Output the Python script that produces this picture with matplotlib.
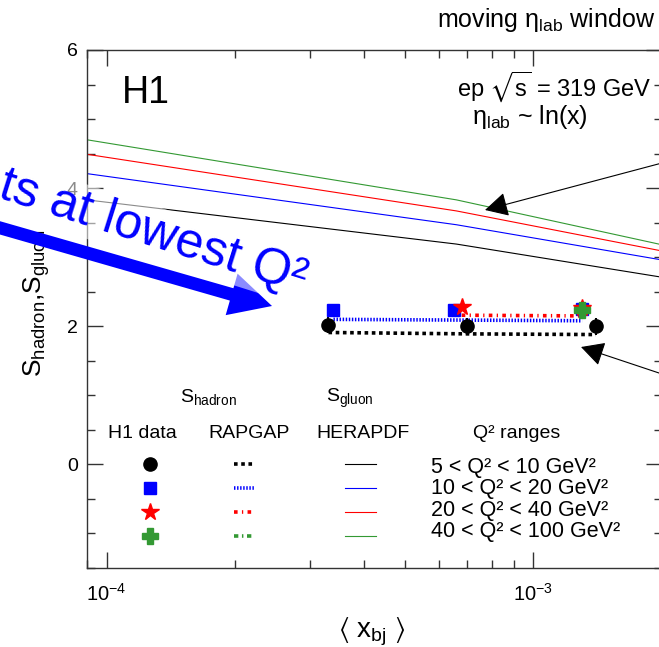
import matplotlib.pyplot as plt
from matplotlib.ticker import LogLocator, MultipleLocator, NullFormatter

plt.rcParams['font.family'] = ['Liberation Sans', 'DejaVu Sans']
plt.rcParams['mathtext.fontset'] = 'custom'
plt.rcParams['mathtext.rm'] = 'Liberation Sans'
plt.rcParams['mathtext.it'] = 'Liberation Sans:italic'
plt.rcParams['mathtext.bf'] = 'Liberation Sans:bold'
plt.rcParams['mathtext.fallback'] = 'stixsans'

# H1 data (S_hadron) per Q2 bin
x_q1 = [3.31e-4, 6.98e-4, 1.40e-3]
s_q1 = [2.02, 2.00, 2.00]
err_q1 = [0.12, 0.12, 0.12]
x_q2 = [3.40e-4, 6.52e-4, 1.30e-3]
s_q2 = [2.23, 2.23, 2.25]
x_q3 = [6.79e-4, 1.30e-3]
s_q3 = [2.28, 2.27]
x_q4 = [1.30e-3]
s_q4 = [2.23]

# RAPGAP predictions
rap_q1 = [1.91, 1.89, 1.88]
rap_q2 = [2.10, 2.09, 2.08]
rap_q3 = [2.16, 2.15]
rap_q4 = [2.20]

# HERAPDF S_gluon
x_pdf = [9e-5, 6.6e-4, 2e-3]
pdf_q1 = [3.83, 3.19, 2.71]
pdf_q2 = [4.21, 3.47, 2.96]
pdf_q3 = [4.49, 3.67, 3.09]
pdf_q4 = [4.70, 3.83, 3.18]

q2_labels = ['5 < Q² < 10 GeV²',
             '10 < Q² < 20 GeV²',
             '20 < Q² < 40 GeV²',
             '40 < Q² < 100 GeV²']
colors = ['black', '#0000ff', '#ff0000', '#339933']
green = colors[3]

W, H = 659, 647
fig = plt.figure(figsize=(W / 100, H / 100), dpi=100)
ax = fig.add_axes([87 / W, 1 - 568 / H, (662 - 87) / W, (568 - 50) / H])
ax.set_xscale('log')

# HERAPDF lines
pdf_lines = []
for vals, c in zip([pdf_q1, pdf_q2, pdf_q3, pdf_q4], colors):
    ln, = ax.plot(x_pdf, vals, color=c, lw=0.8)
    pdf_lines.append(ln)

# RAPGAP lines
r1, = ax.plot(x_q1, rap_q1, color='black', lw=2.6, ls=(0, (1, 1)))
r2, = ax.plot(x_q2, rap_q2, color=colors[1], lw=2.6, ls=(0, (0.4, 0.45)))
r3, = ax.plot(x_q3, rap_q3, color=colors[2], lw=2.6, ls=(0, (1, 1.2, 0.35, 1.2)))
r4, = ax.plot(x_q4, rap_q4, color=green, lw=2.6, ls=(0, (1.2, 1, 0.4, 1)))
rap_lines = [r1, r2, r3, r4]

# data points
ax.errorbar(x_q1, s_q1, yerr=err_q1, fmt='none', ecolor='black', elinewidth=1.5)
m1, = ax.plot(x_q1, s_q1, 'o', color='black', ms=9.5, ls='none')
m2, = ax.plot(x_q2, s_q2, 's', color=colors[1], ms=9, ls='none')
m3, = ax.plot(x_q3, s_q3, '*', color=colors[2], ms=13, ls='none')
m4, = ax.plot(x_q4, s_q4, 'P', color=green, ms=11, ls='none')
markers = [m1, m2, m3, m4]

ax.set_xlim(9e-5, 2e-3)
ax.set_ylim(-1.5, 6)
ax.xaxis.set_major_locator(LogLocator(base=10, numticks=10))
ax.xaxis.set_minor_locator(LogLocator(base=10, subs=range(2, 10), numticks=10))
ax.xaxis.set_minor_formatter(NullFormatter())
ax.yaxis.set_major_locator(MultipleLocator(2))
ax.yaxis.set_minor_locator(MultipleLocator(0.5))
ax.tick_params(which='both', direction='in', top=True, right=True,
               width=1, color='#333333')
ax.tick_params(which='major', length=11.5)
ax.tick_params(which='minor', length=6)
ax.tick_params(axis='x', labelsize=14.5, pad=11)
ax.tick_params(axis='y', labelsize=14, pad=6.5)
for sp in ax.spines.values():
    sp.set_color('#333333')
    sp.set_linewidth(1)

ax.set_ylabel(r'$\mathrm{S_{hadron}}$,$\mathrm{S_{gluon}}$', fontsize=19)
ax.yaxis.set_label_coords(-0.06, 0.51)
ax.set_xlabel(r'$\langle\ \mathrm{x_{bj}}\ \rangle$', fontsize=20)
ax.xaxis.set_label_coords(0.496, -0.092)

ax.text(0.061, 0.898, 'H1', fontsize=27, transform=ax.transAxes)

# legend block: handle columns + label column, same row pitch
fs = 14
lab_fs = 15.5
pitch = 24.1  # px between rows
hh = 2.4
hbox_pt = lab_fs * hh - 0.35 * lab_fs * (hh - 0.7)
hbox_px = hbox_pt * 100 / 72
lab_px = lab_fs * 100 / 72
hcommon = dict(frameon=False, fontsize=lab_fs, borderpad=0, borderaxespad=0,
               handleheight=hh, labelspacing=(pitch - hbox_px) / lab_px,
               numpoints=1, loc='center', handletextpad=0)
leg1 = ax.legend(markers, [''] * 4, bbox_to_anchor=(0.1096, 0.1195),
                 handlelength=0.98, **hcommon)
ax.add_artist(leg1)
leg2 = ax.legend(rap_lines, [''] * 4, bbox_to_anchor=(0.273, 0.1195),
                 handlelength=0.9, **hcommon)
ax.add_artist(leg2)
leg3 = ax.legend(pdf_lines, [''] * 4, bbox_to_anchor=(0.4757, 0.1195),
                 handlelength=1.45, **hcommon)
ax.add_artist(leg3)
text_h = 1.117 * lab_px
ax.legend(pdf_lines, q2_labels, loc='center left', bbox_to_anchor=(0.5976, 0.1322),
          frameon=False, fontsize=lab_fs, borderpad=0, borderaxespad=0,
          handlelength=0, handletextpad=0, handleheight=0.7,
          labelspacing=max(pitch - text_h, 0) / lab_px)

ax.text(0.2104, 0.3205, r'$\mathrm{S_{hadron}}$', fontsize=fs, ha='center',
        va='baseline', transform=ax.transAxes)
ax.text(0.457, 0.3205, r'$\mathrm{S_{gluon}}$', fontsize=fs, ha='center',
        va='baseline', transform=ax.transAxes)
for xa, t in zip([0.0969, 0.2826, 0.48, 0.7478],
                 ['H1 data', 'RAPGAP', 'HERAPDF', 'Q² ranges']):
    ax.text(xa, 0.251, t, fontsize=fs, ha='center', va='baseline',
            transform=ax.transAxes)

# texts above / inside the frame
fig.text(655 / W, 1 - 27 / H, r'moving $\mathrm{\eta_{lab}}$ window',
         fontsize=18, ha='right', va='baseline')
fig.text(652 / W, 1 - 95.5 / H, r'ep $\sqrt{\mathrm{s}}$ = 319 GeV',
         fontsize=17, ha='right', va='baseline')
fig.text(588 / W, 1 - 124 / H, r'$\mathrm{\eta_{lab}}$ ~ ln(x)',
         fontsize=18, ha='right', va='baseline')

# black arrows
for tail, tip in [((662, H - 163), (485, H - 210)), ((662, H - 374), (581, H - 347))]:
    fig.add_artist(plt.Annotation('', xy=tip, xytext=tail, xycoords='figure pixels',
                                  arrowprops=dict(arrowstyle='-|>,head_length=0.72,head_width=0.38',
                                                  mutation_scale=20, lw=0.8, color='black',
                                                  shrinkA=0, shrinkB=0)))

# blue overlay annotation
fig.text(-3 / W, 1 - 197 / H, 'ts at lowest Q²', fontsize=36, color='#0000ff',
         rotation=-17.5, rotation_mode='anchor', ha='left', va='baseline',
         bbox=dict(facecolor='white', alpha=0.55, edgecolor='none', pad=2))
fig.add_artist(plt.Annotation('', xy=(272, H - 306), xytext=(-10, H - 225),
                              xycoords='figure pixels',
                              arrowprops=dict(arrowstyle='simple,head_length=0.72,head_width=0.74,tail_width=0.22',
                                              mutation_scale=42, lw=0, color='#0000ff',
                                              shrinkA=0, shrinkB=0)))

fig.savefig('out.png', dpi=100)
